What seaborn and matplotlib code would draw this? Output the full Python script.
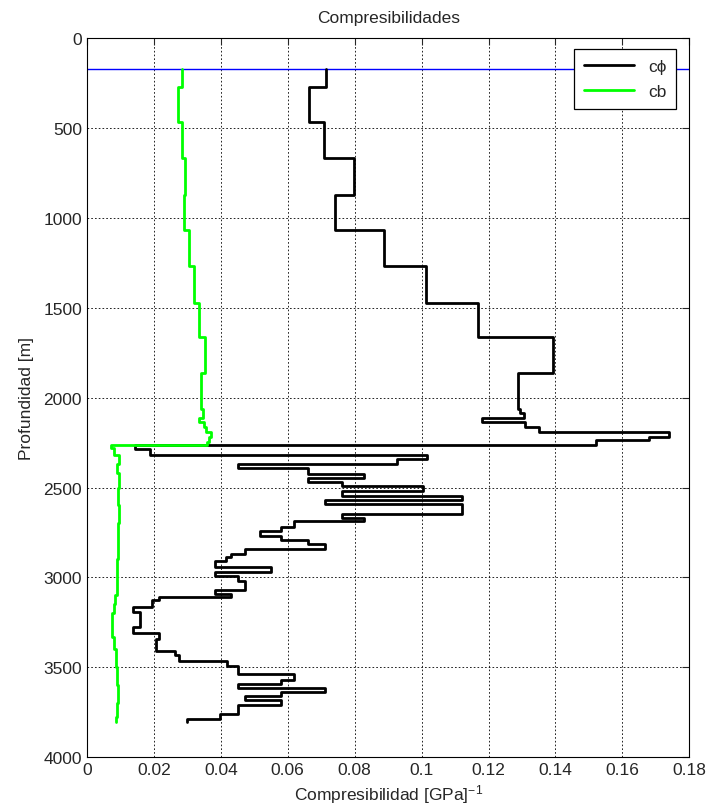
import numpy as np
import pandas as pd
import seaborn as sns
import matplotlib.pyplot as plt
from matplotlib.ticker import FormatStrFormatter

# profundidad de tope de cada tramo [m] y compresibilidad cphi [1/GPa]
phi_top = [170, 272, 467, 667, 869, 1069, 1269, 1472, 1661, 1861, 2065, 2087, 2115, 2133,
           2161, 2189, 2220, 2235, 2263, 2287, 2319, 2343, 2367, 2389, 2422, 2448, 2467,
           2491, 2522, 2546, 2569, 2593, 2648, 2670, 2689, 2719, 2744, 2769, 2793, 2815,
           2843, 2870, 2889, 2911, 2944, 2972, 2991, 3019, 3069, 3093, 3111, 3126, 3167,
           3194, 3278, 3311, 3343, 3411, 3435, 3467, 3491, 3537, 3569, 3593, 3615, 3639,
           3661, 3685, 3713, 3759, 3787]
phi_val = [0.0715, 0.0663, 0.0709, 0.0799, 0.0742, 0.0888, 0.1013, 0.117, 0.1392, 0.1289,
           0.1295, 0.1306, 0.118, 0.131, 0.135, 0.174, 0.168, 0.152, 0.0143, 0.0188,
           0.1017, 0.0926, 0.0451, 0.0662, 0.0829, 0.066, 0.0762, 0.1005, 0.0762, 0.1122,
           0.071, 0.1122, 0.0762, 0.0829, 0.0618, 0.058, 0.0517, 0.058, 0.0662, 0.071,
           0.0473, 0.0431, 0.0416, 0.0382, 0.0549, 0.0382, 0.0451, 0.0473, 0.0382, 0.0431,
           0.0214, 0.0193, 0.0139, 0.0158, 0.0139, 0.0214, 0.0206, 0.0262, 0.0275, 0.0418,
           0.0451, 0.062, 0.058, 0.0451, 0.071, 0.058, 0.0473, 0.058, 0.0451, 0.0397, 0.030]

# compresibilidad cb
cb_top = [170, 272, 467, 667, 869, 1069, 1269, 1472, 1661, 1861, 2065, 2115, 2138, 2161,
          2189, 2220, 2244, 2263, 2280, 2320, 2370, 2420, 2500, 2600, 2700, 2800, 2900,
          3000, 3100, 3150, 3200, 3280, 3330, 3400, 3500, 3600, 3700, 3780]
cb_val = [0.0283, 0.0273, 0.0283, 0.0293, 0.0289, 0.0305, 0.0321, 0.0335, 0.0353, 0.0342,
          0.0347, 0.0335, 0.035, 0.0356, 0.0372, 0.0366, 0.0359, 0.0071, 0.0080, 0.0095,
          0.0090, 0.0095, 0.0094, 0.0096, 0.0093, 0.0092, 0.0091, 0.0090, 0.0085, 0.0080,
          0.0076, 0.0074, 0.0080, 0.0086, 0.0090, 0.0092, 0.0090, 0.0087]

prof_fondo = 3806
prof_ref = 170

xticks = np.arange(0, 0.181, 0.02)
yticks = np.arange(0, 4001, 500)

fs = 12.5
sns.set_style('white')
plt.rcParams['font.family'] = ['Liberation Sans', 'DejaVu Sans']
plt.rcParams['mathtext.fontset'] = 'custom'
plt.rcParams['mathtext.rm'] = 'Liberation Sans'
plt.rcParams['mathtext.it'] = 'Liberation Sans'
plt.rcParams['font.size'] = fs

df_phi = pd.DataFrame({'c': phi_val + [phi_val[-1]], 'prof': phi_top + [prof_fondo]})
df_cb = pd.DataFrame({'c': cb_val + [cb_val[-1]], 'prof': cb_top + [prof_fondo]})

fig = plt.figure(figsize=(7.07, 8.12), dpi=100)
ax = fig.add_axes([0.123, 0.0665, 0.852, 0.885])

ax.axhline(prof_ref, color='#0000ff', lw=1, zorder=1)
sns.lineplot(data=df_phi, x='c', y='prof', sort=False, estimator=None, color='black',
             lw=2, drawstyle='steps-pre', label='c\u03d5', ax=ax)
sns.lineplot(data=df_cb, x='c', y='prof', sort=False, estimator=None, color='#00ff00',
             lw=2, drawstyle='steps-pre', label='cb', ax=ax)

ax.set_xlim(0, 0.18)
ax.set_ylim(4000, 0)
ax.set_xticks(xticks)
ax.set_yticks(yticks)
ax.xaxis.set_major_formatter(FormatStrFormatter('%g'))
ax.grid(True, color='black', ls=(0, (2, 2.5)), lw=0.6)
ax.tick_params(direction='in', top=True, right=True, length=5, width=0.8, labelsize=fs)
for s in ax.spines.values():
    s.set_color('black')
    s.set_linewidth(0.8)

ax.set_title('Compresibilidades', fontsize=fs, pad=12)
ax.set_xlabel('Compresibilidad [GPa]$^{-1}$', fontsize=fs, labelpad=4)
ax.set_ylabel('Profundidad [m]', fontsize=fs, labelpad=7)

leg = ax.legend(loc='upper right', handlelength=2.9, fancybox=False, framealpha=1,
                edgecolor='black', borderpad=0.55, labelspacing=0.6, fontsize=fs,
                bbox_to_anchor=(0.992, 0.997))
leg.get_frame().set_linewidth(0.9)
leg.set_zorder(5)

fig.savefig('out.png', dpi=100)
